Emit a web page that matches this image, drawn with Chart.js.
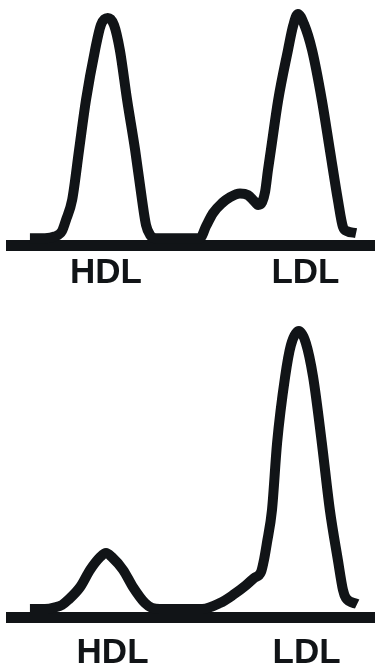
<!DOCTYPE html>
<html>
<head>
<meta charset="utf-8">
<script src="https://cdn.jsdelivr.net/npm/chart.js@4/dist/chart.umd.min.js"></script>
<style>
  html, body { margin: 0; padding: 0; background: #fff; }
  canvas { display: block; }
</style>
</head>
<body>
<canvas id="topChart" width="375" height="300"></canvas>
<canvas id="bottomChart" width="375" height="371"></canvas>
<script>
// band labels under the baseline
const bandLabels = ['HDL', 'LDL'];

// top profile (relative mobility vs. intensity)
const topMobility = [5.2, 9.3, 12.1, 14.0, 15.1, 16.8, 18.7, 20.6, 23.1, 24.7, 26.6, 28.3, 29.9, 31.9, 34.1, 36.0, 37.1, 38.2, 39.8,
  51.9, 53.6, 55.5, 58.0, 60.2, 62.9, 65.1, 66.8, 67.9, 69.0, 69.8, 70.6, 71.4, 73.4, 76.1, 77.5, 78.8, 80.5, 82.7, 85.4, 87.6, 89.8, 91.2, 92.3, 94.8];
const topIntensity = [0, 0, 0.8, 3.0, 7.6, 16.0, 36.8, 57.6, 78.5, 88.9, 91.8, 88.9, 78.5, 57.6, 36.8, 16.0, 5.5, 1.4, 0,
  0, 5.1, 10.5, 14.7, 17.2, 18.7, 18.0, 15.5, 13.9, 15.1, 19.3, 28.5, 36.8, 57.6, 78.5, 88.5, 93.5, 89.3, 78.5, 57.6, 36.8, 16.0, 4.7, 3.0, 2.2];
const topBandPos = [26.1, 80.9];

// bottom profile
const bottomMobility = [5.2, 9.3, 12.1, 14.0, 15.7, 19.0, 21.7, 24.5, 26.1, 27.7, 30.8, 33.5, 36.8, 38.7, 40.9,
  52.5, 57.4, 61.0, 64.6, 66.8, 68.7, 69.5, 70.3, 71.7, 73.1, 75.3, 76.9, 79.1, 81.0, 83.0, 85.4, 87.6, 89.8, 91.2, 92.0, 95.1];
const bottomIntensity = [0, 0, 0.7, 1.7, 3.8, 9.2, 16.3, 21.7, 23.4, 21.7, 16.3, 9.2, 2.5, 0.5, 0,
  0, 2.5, 5.9, 10.0, 13.0, 15.5, 20.5, 27.5, 41.3, 69.2, 96.7, 110.0, 115.9, 110.9, 96.7, 69.2, 41.3, 20.5, 8.0, 4.6, 2.1];
const bottomBandPos = [27.9, 81.2];

const ink = '#111417';

function makeProfile(id, xs, ys, bandPos, yMin, yMax, axisH, labelPad) {
  const pts = xs.map((x, i) => ({ x: x, y: ys[i] }));
  return new Chart(document.getElementById(id), {
    type: 'line',
    data: {
      datasets: [{
        data: pts,
        borderColor: ink,
        borderWidth: 10,
        borderJoinStyle: 'round',
        borderCapStyle: 'butt',
        cubicInterpolationMode: 'monotone',
        pointRadius: 0,
        fill: false
      }]
    },
    options: {
      responsive: false,
      animation: false,
      devicePixelRatio: 1,
      layout: { padding: { left: 11, right: 0, top: 5.5, bottom: 0 } },
      plugins: { legend: { display: false }, tooltip: { enabled: false } },
      scales: {
        x: {
          type: 'linear',
          min: 0,
          max: 100,
          grid: { display: false, drawTicks: false },
          border: { display: true, color: ink, width: 11 },
          afterBuildTicks: (s) => { s.ticks = bandPos.map(v => ({ value: v })); },
          afterFit: (s) => { s.height = axisH; },
          ticks: {
            autoSkip: false,
            maxRotation: 0,
            padding: labelPad,
            color: ink,
            font: { family: '"Liberation Sans", Arial, sans-serif', size: 35, weight: 'bold', lineHeight: 1.2 },
            callback: (v, i) => bandLabels[i]
          }
        },
        y: { display: false, min: yMin, max: yMax }
      }
    }
  });
}

makeProfile('topChart', topMobility, topIntensity, topBandPos, -3, 97, 54.5, 7);
makeProfile('bottomChart', bottomMobility, bottomIntensity, bottomBandPos, -3.5, 126.5, 53.5, 15);
</script>
</body>
</html>
